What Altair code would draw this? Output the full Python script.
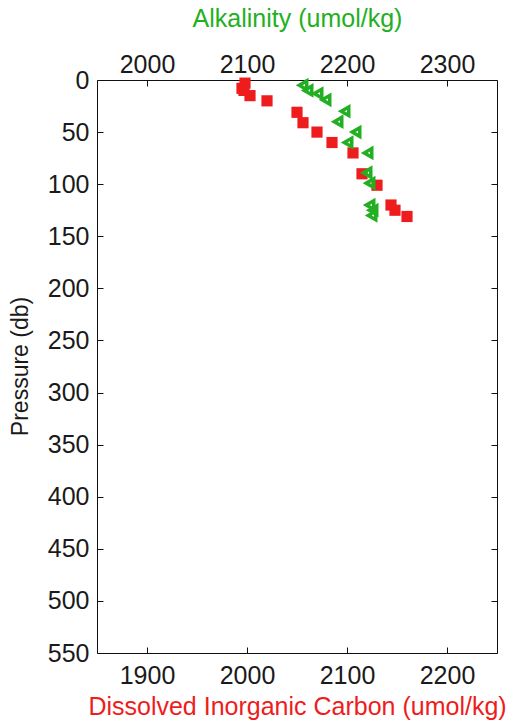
import altair as alt
import pandas as pd

# Dissolved inorganic carbon profile (bottom axis)
dic_pressure = [3, 8, 10, 15, 20, 31, 41, 50, 60, 70, 90, 101, 120, 125, 131]
dic_values = [1998, 1995, 1997, 2003, 2020, 2050, 2056, 2070, 2085, 2106, 2115, 2130, 2144, 2148, 2160]

# Total alkalinity profile (top axis)
alk_pressure = [5, 10, 13, 19, 30, 40, 50, 60, 70, 89, 99, 120, 125, 130]
alk_values = [2156, 2161, 2171, 2179, 2198, 2191, 2209, 2201, 2221, 2220, 2223, 2223, 2226, 2225]

dic_ticks = [1900, 2000, 2100, 2200]
alk_ticks = [2000, 2100, 2200, 2300]
p_ticks = list(range(0, 551, 50))

RED = "#ee1c1c"
GREEN = "#22b022"
FONT = "Liberation Sans"

dic_df = pd.DataFrame({"pressure": dic_pressure, "dic": dic_values})
alk_df = pd.DataFrame({"pressure": alk_pressure, "alk": alk_values})

x_dic = alt.Scale(domain=[1850, 2250], nice=False, zero=False)
x_alk = alt.Scale(domain=[1950, 2350], nice=False, zero=False)
y_p = alt.Scale(domain=[0, 550], reverse=True, nice=False, zero=False)

label_style = dict(labelFont=FONT, labelFontSize=25, labelColor="#1a1a1a",
                   labelFontWeight="normal", format="d",
                   ticks=False, domain=False, grid=False)

dic_layer = alt.Chart(dic_df).mark_point(
    shape="square", filled=True, size=125, color=RED, opacity=1
).encode(
    x=alt.X("dic:Q", scale=x_dic, axis=alt.Axis(
        orient="bottom", values=dic_ticks, labelPadding=10,
        title="Dissolved Inorganic Carbon (umol/kg)", titleFont=FONT,
        titleFontSize=25, titleFontWeight="normal", titleColor=RED,
        titleX=200, titleY=53, titleBaseline="middle", titleAlign="center",
        **label_style)),
    y=alt.Y("pressure:Q", scale=y_p, axis=alt.Axis(
        orient="left", values=p_ticks, labelPadding=8,
        title="Pressure (db)", titleFont=FONT, titleFontSize=23,
        titleFontWeight="normal", titleColor="#1a1a1a", titleAngle=-90,
        titleX=-77, titleY=286, titleBaseline="middle", titleAlign="center",
        **label_style)),
)

alk_layer = alt.Chart(alk_df).mark_point(
    shape="triangle-left", filled=False, size=75, strokeWidth=3.5,
    color=GREEN, opacity=1
).encode(
    x=alt.X("alk:Q", scale=x_alk, axis=alt.Axis(
        orient="top", values=alk_ticks, labelPadding=3,
        title="Alkalinity (umol/kg)", titleFont=FONT, titleFontSize=25,
        titleFontWeight="normal", titleColor=GREEN,
        titleX=200, titleY=-62, titleBaseline="middle", titleAlign="center",
        **label_style)),
    y=alt.Y("pressure:Q", scale=y_p, axis=None),
)

# inward-pointing tick marks on all four sides
tick_style = dict(labels=False, domain=False, grid=False, ticks=True,
                  tickSize=6, tickColor="#111111", tickWidth=1, offset=-6,
                  title=None)

ticks_bl = alt.Chart(dic_df).mark_point(opacity=0).encode(
    x=alt.X("dic:Q", scale=x_dic, axis=alt.Axis(orient="bottom", values=dic_ticks, **tick_style)),
    y=alt.Y("pressure:Q", scale=y_p, axis=alt.Axis(orient="left", values=p_ticks, **tick_style)),
)

ticks_tr = alt.Chart(alk_df).mark_point(opacity=0).encode(
    x=alt.X("alk:Q", scale=x_alk, axis=alt.Axis(orient="top", values=alk_ticks, **tick_style)),
    y=alt.Y("pressure:Q", scale=y_p, axis=alt.Axis(orient="right", values=p_ticks, **tick_style)),
)

chart = alt.layer(ticks_bl, ticks_tr, dic_layer, alk_layer).resolve_scale(
    x="independent"
).resolve_axis(
    x="independent", y="independent"
).properties(
    width=400,
    height=573,
    padding={"left": 97, "top": 80, "right": 12, "bottom": 70},
    autosize=alt.AutoSizeParams(type="none"),
    background="white",
).configure_view(
    stroke="#111111", strokeWidth=1
)

chart.save("out.html", embed_options={"renderer": "svg", "actions": False})
